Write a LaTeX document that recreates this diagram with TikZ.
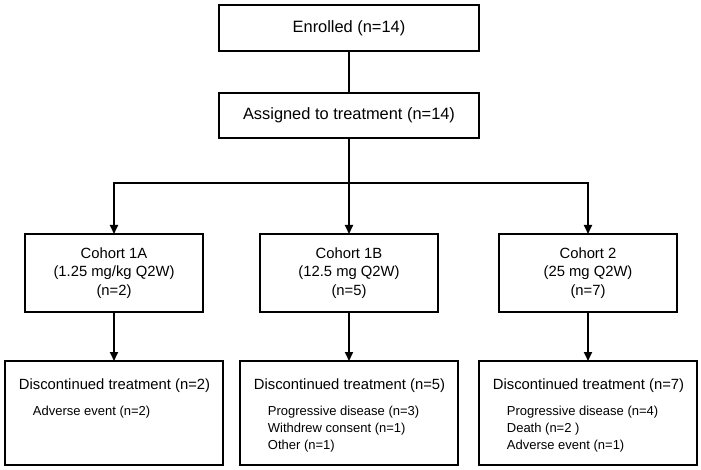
\documentclass[tikz,border=0pt]{standalone}
\usepackage{fontspec}
\setmainfont{Liberation Sans}
\usepackage{tikz}
\usetikzlibrary{arrows.meta, positioning, calc}

\begin{document}
\begin{tikzpicture}[
    x=1pt, y=1pt,
    >={Triangle[width=8pt,length=9pt]},
    line width=1.8pt,
    block/.style={draw, rectangle, outer sep=0pt, minimum width=260pt, minimum height=45pt, align=center, font=\fontsize{16.4}{19}\selectfont},
    cohort/.style={draw, rectangle, outer sep=0pt, minimum width=178pt, minimum height=78pt, align=center, font=\fontsize{14.8}{18.5}\selectfont},
    outbox/.style={draw, rectangle, outer sep=0pt, minimum width=218pt, minimum height=104pt},
    head/.style={anchor=base west, inner sep=0pt, font=\fontsize{14.8}{18}\selectfont},
    items/.style={anchor=north west, inner sep=0pt, align=left, font=\fontsize{13}{17}\selectfont},
    signal/.style={->}
]
    \useasboundingbox (0,0) rectangle (701,-470);

    % Enrolment
    \node [block, minimum height=46pt] (Enrol) at (349,-28) {Enrolled (n=14)};
    \node [block, below=42pt of Enrol] (Assign) {Assigned to treatment (n=14)};

    % Cohorts
    \node [cohort, below=96pt of Assign] (Coh1B) {Cohort 1B\\(12.5 mg Q2W)\\(n=5)};
    \node [cohort, left=57pt of Coh1B] (Coh1A) {Cohort 1A\\(1.25 mg/kg Q2W)\\(n=2)};
    \node [cohort, right=61pt of Coh1B] (Coh2) {Cohort 2\\(25 mg Q2W)\\(n=7)};

    % Discontinued boxes
    \node [outbox, below=49pt of Coh1A] (Disc1A) {};
    \node [outbox, below=49pt of Coh1B] (Disc1B) {};
    \node [outbox, below=49pt of Coh2] (Disc2) {};

    \node [head] (Head1A) at ($(Disc1A.north west)+(13,-28)$) {Discontinued treatment (n=2)};
    \node [head] (Head1B) at ($(Disc1B.north west)+(13,-28)$) {Discontinued treatment (n=5)};
    \node [head] (Head2) at ($(Disc2.north west)+(13,-28)$) {Discontinued treatment (n=7)};

    \node [items] (Why1A) at ($(Disc1A.north west)+(27,-44)$) {Adverse event (n=2)};
    \node [items] (Why1B) at ($(Disc1B.north west)+(27,-44)$) {Progressive disease (n=3)\\Withdrew consent (n=1)\\Other (n=1)};
    \node [items] (Why2) at ($(Disc2.north west)+(27,-44)$) {Progressive disease (n=4)\\Death (n=2 )\\Adverse event (n=1)};

    % Connectors
    \draw (Enrol.south) -- (Assign.north);
    \draw (Assign.south) -- ++(0,-45) coordinate (split);
    \draw [signal] (split) -| (Coh1A.north);
    \draw [signal] (split) -- (Coh1B.north);
    \draw [signal] (split) -| (Coh2.north);

    \draw [signal] (Coh1A.south) -- (Disc1A.north);
    \draw [signal] (Coh1B.south) -- (Disc1B.north);
    \draw [signal] (Coh2.south) -- (Disc2.north);

\end{tikzpicture}
\end{document}
